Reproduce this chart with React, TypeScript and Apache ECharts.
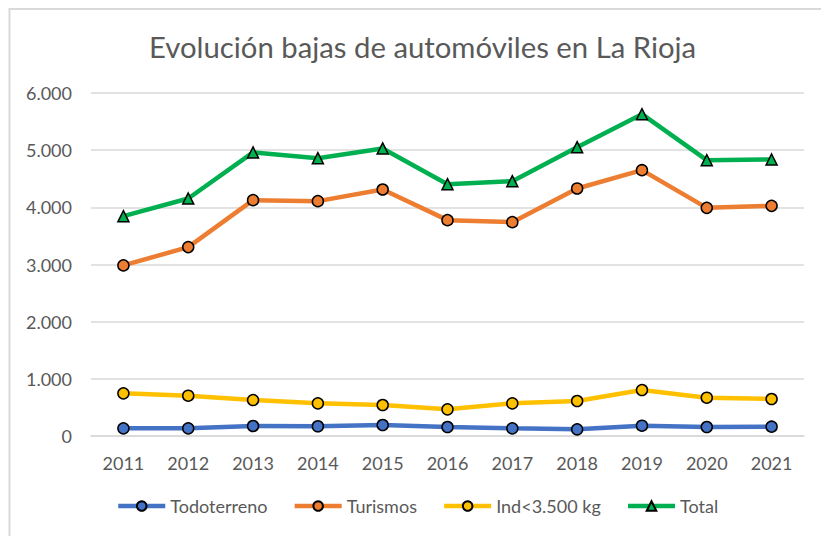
import React, { useEffect, useRef } from "react";
import * as echarts from "echarts";

const years = ["2011", "2012", "2013", "2014", "2015", "2016", "2017", "2018", "2019", "2020", "2021"];
const todoterreno = [134, 134, 175, 170, 192, 157, 134, 117, 180, 157, 163];
const turismos = [2984, 3304, 4126, 4108, 4312, 3776, 3741, 4330, 4650, 3991, 4026];
const industriales = [746, 705, 629, 571, 542, 466, 571, 612, 804, 670, 647];
const total = [3846, 4155, 4960, 4860, 5030, 4405, 4458, 5052, 5630, 4825, 4837];

const FONT = "Lato";
const TXT = "#595959";

function fmt(v: number): string {
  return String(Math.round(v)).replace(/\B(?=(\d{3})+(?!\d))/g, ".");
}

export default function App() {
  const ref = useRef<HTMLDivElement>(null);
  useEffect(() => {
    if (!ref.current) return;
    const chart = echarts.init(ref.current, undefined, { renderer: "svg" });
    const mk = (name: string, data: number[], color: string, symbol: string, size: number) => ({
      name,
      type: "line",
      data,
      symbol,
      symbolSize: size,
      showSymbol: true,
      lineStyle: { color, width: 4.5 },
      itemStyle: { color, borderColor: "#000", borderWidth: 1.5 },
      emphasis: { disabled: true },
      z: 2,
    });
    chart.setOption({
      animation: false,
      textStyle: { fontFamily: FONT },
      title: {
        text: "Evolución bajas de automóviles en La Rioja",
        left: 144,
        top: 27,
        textStyle: { fontFamily: FONT, fontSize: 29.3, fontWeight: "normal", color: TXT },
      },
      graphic: [
        {
          type: "rect",
          shape: { x: 9.5, y: 9, width: 900, height: 700 },
          style: { fill: "none", stroke: "#d9d9d9", lineWidth: 2 },
          silent: true,
        },
      ],
      grid: { left: 91, right: 17, top: 93, bottom: 100 },
      legend: {
        bottom: 16,
        left: 111,
        itemWidth: 47,
        itemHeight: 12,
        itemGap: 25,
        lineStyle: { width: 4.5 },
        textStyle: { fontFamily: FONT, fontSize: 18, color: TXT },
        data: ["Todoterreno", "Turismos", "Ind<3.500 kg", "Total"],
      },
      xAxis: {
        type: "category",
        data: years,
        boundaryGap: true,
        axisLine: { lineStyle: { color: "#d9d9d9", width: 1.5 } },
        axisTick: { show: false },
        axisLabel: { fontFamily: FONT, fontSize: 18, color: TXT, margin: 18 },
      },
      yAxis: {
        type: "value",
        min: 0,
        max: 6000,
        interval: 1000,
        axisLine: { show: false },
        axisTick: { show: false },
        splitLine: { lineStyle: { color: "#d9d9d9", width: 1.5 } },
        axisLabel: { fontFamily: FONT, fontSize: 18, color: TXT, margin: 19, formatter: (v: number) => fmt(v) },
      },
      series: [
        mk("Todoterreno", todoterreno, "#4472C4", "circle", 11),
        mk("Turismos", turismos, "#ED7D31", "circle", 11),
        mk("Ind<3.500 kg", industriales, "#FFC000", "circle", 11),
        mk("Total", total, "#00B050", "triangle", 11),
      ],
    });
    return () => chart.dispose();
  }, []);
  return (
    <div
      ref={ref}
      style={{ position: "fixed", left: 0, top: 0, width: 821, height: 536, background: "#fff" }}
    />
  );
}
